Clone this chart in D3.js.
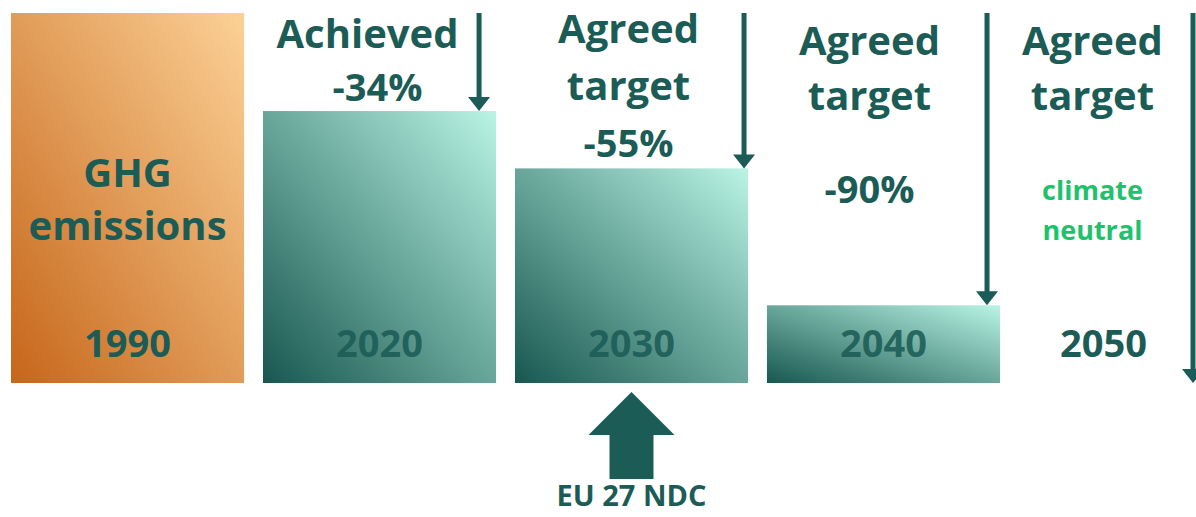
<!DOCTYPE html>
<html>
<head>
<meta charset="utf-8">
<script src="https://cdn.jsdelivr.net/npm/d3@7"></script>
<style>
  body { margin: 0; background: #fff; }
  svg { display: block; font-family: "Open Sans", "Noto Sans", sans-serif; font-weight: 700; }
</style>
</head>
<body>
<svg id="chart" width="1196" height="517"></svg>
<script>
// data (bar height as index, 1990 = 100)
const years = ["1990", "2020", "2030", "2040", "2050"];
const emissionIndex = [100, 73.5, 58, 21, 0];
const statusLabels = ["GHG emissions", "Achieved", "Agreed target", "Agreed target", "Agreed target"];
const reductionLabels = ["", "-34%", "-55%", "-90%", "climate neutral"];
const ndcYear = "2030";
const ndcLabel = "EU 27 NDC";

const dark = "#1c5c56";
const green = "#1fc26c";

const svg = d3.select("#chart");

let xScale = d3.scaleBand().domain(years).range([11, 1252]).paddingInner(0.075);
let yScale = d3.scaleLinear().domain([0, 100]).range([383, 13]);
const bw = xScale.bandwidth();
const cx = d => xScale(d) + bw / 2;

// gradients
const defs = svg.append("defs");
function grad(id, from, to) {
    let g = defs.append("linearGradient").attr("id", id)
        .attr("x1", 0).attr("y1", 1).attr("x2", 1).attr("y2", 0);
    g.append("stop").attr("offset", "0%").attr("stop-color", from);
    g.append("stop").attr("offset", "100%").attr("stop-color", to);
}
grad("orange", "#c6661a", "#fcd196");
grad("teal", "#185750", "#b9f4e4");

// bars
svg.selectAll(".bar")
    .data(years)
    .enter()
    .append("rect")
    .attr("class", "bar")
    .attr("x", d => xScale(d))
    .attr("y", (d, i) => yScale(emissionIndex[i]))
    .attr("width", bw)
    .attr("height", (d, i) => yScale(0) - yScale(emissionIndex[i]))
    .attr("fill", (d, i) => i == 0 ? "url(#orange)" : "url(#teal)");

// reduction arrows, inset from the right side of each band
const arrowInset = [0, 17, 4, 13, 59];
const ax = (d, i) => xScale(d) + bw - arrowInset[i + 1];
let drops = svg.selectAll(".drop")
    .data(years.slice(1))
    .enter()
    .append("g")
    .attr("class", "drop");
drops.append("line")
    .attr("x1", ax).attr("x2", ax)
    .attr("y1", 13)
    .attr("y2", (d, i) => yScale(emissionIndex[i + 1]) - 8)
    .attr("stroke", dark)
    .attr("stroke-width", 5);
drops.append("path")
    .attr("d", (d, i) => {
        let x = ax(d, i), y = yScale(emissionIndex[i + 1]);
        return `M${x - 11},${y - 14} L${x + 11},${y - 14} L${x},${y} Z`;
    })
    .attr("fill", dark);

// text layout per column: horizontal shift and baselines
const headDx = [0, -12, -3, -14, -43];
const headLines = [[187, 240], [48], [43, 100], [55, 110], [55, 110]];
const subLines = [[], [101], [157], [203], [200, 240]];
const yearDx = [0, 0, 0, 0, -32];

function splitStatus(s, i) {
    return i == 1 ? [s] : s.split(" ");
}

years.forEach((yr, i) => {
    let g = svg.append("g").attr("text-anchor", "middle").attr("fill", dark);
    splitStatus(statusLabels[i], i).forEach((t, j) => {
        g.append("text").attr("x", cx(yr) + headDx[i]).attr("y", headLines[i][j])
            .style("font-size", "40px").text(t);
    });
    if (reductionLabels[i]) {
        let small = i == 4;
        let parts = small ? reductionLabels[i].split(" ") : [reductionLabels[i]];
        parts.forEach((t, j) => {
            g.append("text").attr("x", cx(yr) + headDx[i] + (i == 1 ? 10 : 0)).attr("y", subLines[i][j])
                .attr("fill", small ? green : dark)
                .style("font-size", small ? "27px" : "38px").text(t);
        });
    }
    g.append("text").attr("x", cx(yr) + yearDx[i]).attr("y", 357)
        .attr("fill-opacity", i == 0 || i == 4 ? 1 : 0.9)
        .style("font-size", "38px").text(yr);
});

// NDC arrow under the 2030 bar
const nx = cx(ndcYear);
svg.append("path")
    .attr("d", `M${nx},392 L${nx + 43},435 L${nx + 22},435 L${nx + 22},479 L${nx - 22},479 L${nx - 22},435 L${nx - 43},435 Z`)
    .attr("fill", dark);
svg.append("text")
    .attr("x", nx).attr("y", 506)
    .attr("text-anchor", "middle")
    .attr("fill", dark)
    .style("font-size", "29px")
    .text(ndcLabel);
</script>
</body>
</html>
